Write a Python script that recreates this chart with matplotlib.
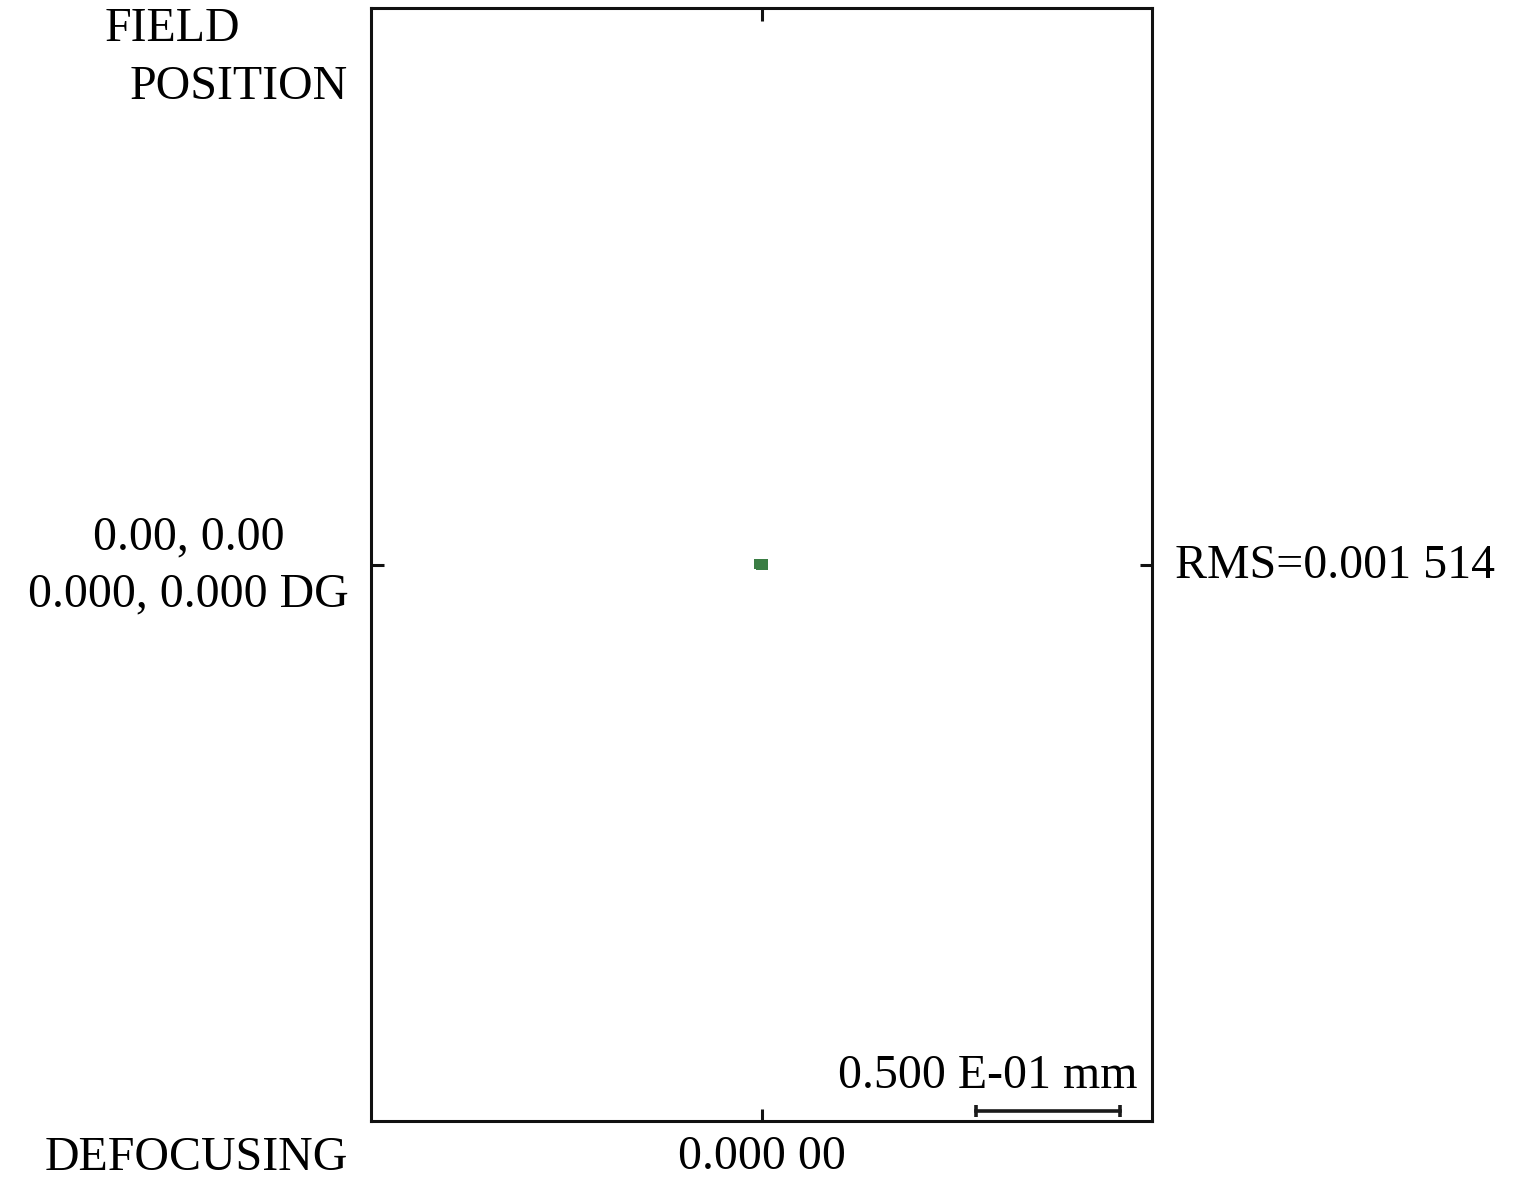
import numpy as np
import matplotlib.pyplot as plt
import matplotlib.transforms as mtransforms

plt.rcParams['font.family'] = ['Liberation Serif', 'DejaVu Serif']

# spot diagram points (mm), relative to chief ray
spot_x = [0.0000, -0.0008, 0.0004, -0.0003, 0.0005]
spot_y = [0.0000, 0.0002, -0.0002, -0.0003, 0.0003]

x_ticks = [0.0]
x_tick_labels = ["0.000 00"]
y_ticks = [0.0]
left_labels = ["0.00, 0.00\n0.000, 0.000 DG"]
right_labels = ["RMS=0.001 514"]
scale_len = 0.05  # mm
scale_text = "0.500 E-01 mm"

fs = 34.5
W, H = 1535, 1185

fig = plt.figure(figsize=(W / 100, H / 100), dpi=100)
ax = fig.add_axes([371 / W, 1 - 1121 / H, (1152 - 371) / W, (1121 - 8) / H])

half_w = 0.1355
half_h = 0.1930
ax.set_xlim(-half_w, half_w)
ax.set_ylim(-half_h, half_h)

ax.scatter(spot_x, spot_y, marker='s', s=50, color='#3a7d44', linewidths=0, zorder=3)

# scale bar
x0 = 0.0745
yb = -0.1895
ax.plot([x0, x0 + scale_len], [yb, yb], color='#1a1a1a', lw=2.6,
        marker='|', markersize=9, markeredgewidth=2.6)

for s in ax.spines.values():
    s.set_linewidth(2.2)
    s.set_color('#111111')

ax.set_xticks(x_ticks)
ax.set_xticklabels(x_tick_labels, fontsize=fs)
ax.set_yticks(y_ticks)
ax.set_yticklabels(left_labels, fontsize=fs, multialignment='center', linespacing=1.4)
ax.tick_params(direction='in', length=9, width=2.2, color='#111111',
               top=True, right=True, labelright=False, pad=16)
ax.tick_params(axis='x', pad=10)

# nudge the two-line field label up so it centres on the tick
shift = mtransforms.ScaledTranslation(0, 0.105, fig.dpi_scale_trans)
for lab in ax.get_yticklabels():
    lab.set_transform(lab.get_transform() + shift)

# right side label
fig.text(1175 / W, 1 - 578 / H, right_labels[0], fontsize=fs, ha='left', va='baseline')

fig.text(172 / W, 1 - 41 / H, "FIELD", fontsize=fs, ha='center', va='baseline')
fig.text(348 / W, 1 - 99 / H, "POSITION", fontsize=fs, ha='right', va='baseline')
fig.text(348 / W, 1 - 1170 / H, "DEFOCUSING", fontsize=fs, ha='right', va='baseline')
fig.text(1138 / W, 1 - 1088 / H, scale_text, fontsize=fs, ha='right', va='baseline')

fig.savefig("out.png", dpi=100, facecolor='white')
